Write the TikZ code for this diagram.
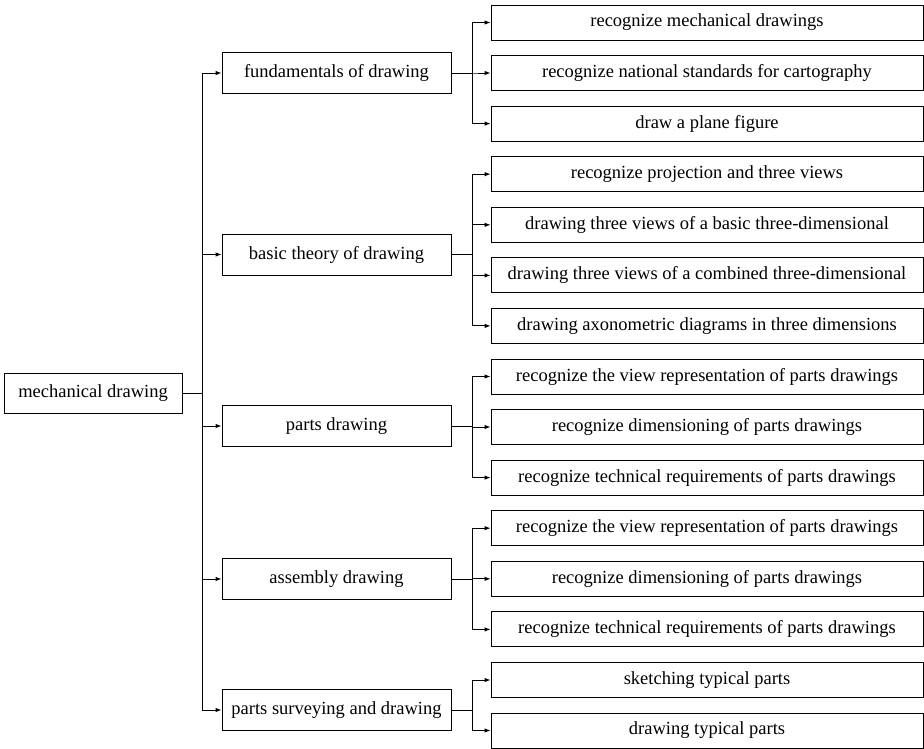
\documentclass[tikz,border=0pt]{standalone}
\usepackage{fontspec}
\setmainfont{Liberation Serif}
\usetikzlibrary{arrows.meta, positioning}

\begin{document}
\begin{tikzpicture}[x=1pt, y=-1pt,
    box/.style={draw, line width=0.9pt, inner sep=0pt, font=\fontsize{18.5}{21}\selectfont},
    rootbox/.style={box, minimum width=178pt, minimum height=40pt},
    topicbox/.style={box, minimum width=229pt, minimum height=41pt},
    leafbox/.style={box, minimum width=432pt, minimum height=35pt},
    arr/.style={line width=0.9pt, -{Latex[length=6pt, width=4.5pt]}}]
  \useasboundingbox (0,0) rectangle (924,749);

  % root and topics
  \node[rootbox] (root) at (93,393) {mechanical drawing};
  \node[topicbox] (fund) at (336.5,73) {fundamentals of drawing};
  \node[topicbox] (theory) at (336.5,254.5) {basic theory of drawing};
  \node[topicbox] (parts) at (336.5,426) {parts drawing};
  \node[topicbox] (assembly) at (336.5,579) {assembly drawing};
  \node[topicbox] (survey) at (336.5,710) {parts surveying and drawing};

  % leaves
  \node[leafbox] (f1) at (707,22.5) {recognize mechanical drawings};
  \node[leafbox] (f2) at (707,73) {recognize national standards for cartography};
  \node[leafbox] (f3) at (707,123.6) {draw a plane figure};
  \node[leafbox] (t1) at (707,174.2) {recognize projection and three views};
  \node[leafbox] (t2) at (707,224.8) {drawing three views of a basic three-dimensional};
  \node[leafbox] (t3) at (707,275.4) {drawing three views of a combined three-dimensional};
  \node[leafbox] (t4) at (707,325.9) {drawing axonometric diagrams in three dimensions};
  \node[leafbox] (p1) at (707,376.5) {recognize the view representation of parts drawings};
  \node[leafbox] (p2) at (707,427) {recognize dimensioning of parts drawings};
  \node[leafbox] (p3) at (707,477.6) {recognize technical requirements of parts drawings};
  \node[leafbox] (a1) at (707,528.2) {recognize the view representation of parts drawings};
  \node[leafbox] (a2) at (707,578.8) {recognize dimensioning of parts drawings};
  \node[leafbox] (a3) at (707,629.4) {recognize technical requirements of parts drawings};
  \node[leafbox] (s1) at (707,680) {sketching typical parts};
  \node[leafbox] (s2) at (707,730.5) {drawing typical parts};

  % connectors
  \foreach \t in {fund, theory, parts, assembly, survey}
    \draw[arr] (root.east) -- ++(20,0) |- (\t.west);
  \foreach \l in {f1, f2, f3}
    \draw[arr] (fund.east) -- ++(20.5,0) |- (\l.west);
  \foreach \l in {t1, t2, t3, t4}
    \draw[arr] (theory.east) -- ++(20.5,0) |- (\l.west);
  \foreach \l in {p1, p2, p3}
    \draw[arr] (parts.east) -- ++(20.5,0) |- (\l.west);
  \foreach \l in {a1, a2, a3}
    \draw[arr] (assembly.east) -- ++(20.5,0) |- (\l.west);
  \foreach \l in {s1, s2}
    \draw[arr] (survey.east) -- ++(20.5,0) |- (\l.west);
\end{tikzpicture}
\end{document}
